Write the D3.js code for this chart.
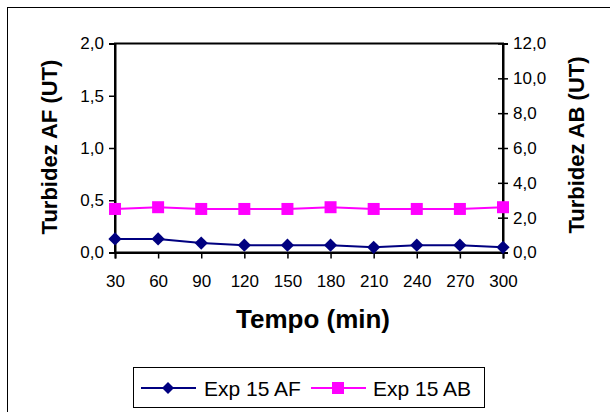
<!DOCTYPE html>
<html>
<head>
<meta charset="utf-8">
<script src="https://cdn.jsdelivr.net/npm/d3@7"></script>
<style>
  html, body { margin: 0; padding: 0; background: #fff; }
  svg { display: block; }
  text { font-family: Arial, "Liberation Sans", sans-serif; fill: #000; }
</style>
</head>
<body>
<svg id="chart" width="610" height="412"></svg>
<script>
const categories = ["30", "60", "90", "120", "150", "180", "210", "240", "270", "300"];
const seriesAF = [0.13, 0.13, 0.09, 0.07, 0.07, 0.07, 0.05, 0.07, 0.07, 0.05];
const seriesAB = [2.5, 2.6, 2.5, 2.5, 2.5, 2.6, 2.5, 2.5, 2.5, 2.6];
const leftTicks = [0, 0.5, 1.0, 1.5, 2.0];
const rightTicks = [0, 2, 4, 6, 8, 10, 12];
const seriesNames = ["Exp 15 AF", "Exp 15 AB"];
const titles = { x: "Tempo (min)", yLeft: "Turbidez AF (UT)", yRight: "Turbidez AB (UT)" };

const fmt = v => d3.format(".1f")(v).replace(".", ",");

const svg = d3.select("#chart");
const W = 610, H = 412;
const m = { left: 115, right: 503, top: 43.5, bottom: 252.5 };
const FF = "Arial, 'Liberation Sans', sans-serif";

// outer chart border
svg.append("rect").attr("x", 7.5).attr("y", 7.5).attr("width", W + 20).attr("height", H + 20)
  .attr("fill", "#fff").attr("stroke", "#000").attr("stroke-width", 1);

const x = d3.scalePoint().domain(categories).range([m.left, m.right]);
const yL = d3.scaleLinear().domain([0, 2]).range([m.bottom, m.top]);
const yR = d3.scaleLinear().domain([0, 12]).range([m.bottom, m.top]);

// plot frame
svg.append("rect").attr("x", m.left).attr("y", m.top)
  .attr("width", m.right - m.left).attr("height", m.bottom - m.top)
  .attr("fill", "none").attr("stroke", "#000").attr("stroke-width", 2);

// left axis
const gL = svg.append("g").attr("transform", `translate(${m.left},0)`)
  .call(d3.axisLeft(yL).tickValues(leftTicks).tickFormat(fmt).tickSize(6).tickPadding(5));
gL.select(".domain").attr("stroke-width", 2);
gL.selectAll(".tick line").attr("stroke-width", 1.5);
gL.selectAll(".tick text").attr("font-size", 17).attr("font-family", FF);

// right axis (cross ticks)
const gR = svg.append("g").attr("transform", `translate(${m.right},0)`)
  .call(d3.axisRight(yR).tickValues(rightTicks).tickFormat(fmt).tickSize(5).tickPadding(5));
gR.select(".domain").attr("stroke-width", 2);
gR.selectAll(".tick line").attr("x1", -5).attr("stroke-width", 1.5);
gR.selectAll(".tick text").attr("font-size", 17).attr("font-family", FF);

// bottom axis
const gB = svg.append("g").attr("transform", `translate(0,${m.bottom})`)
  .call(d3.axisBottom(x).tickSize(6).tickPadding(16));
gB.select(".domain").attr("stroke-width", 2);
gB.selectAll(".tick line").attr("stroke-width", 1.5);
gB.selectAll(".tick text").attr("font-size", 17).attr("font-family", FF);

// titles
svg.append("text").attr("x", (m.left + m.right) / 2 + 4).attr("y", 328)
  .attr("text-anchor", "middle").attr("font-size", 26).attr("font-weight", "bold").text(titles.x);
svg.append("text").attr("transform", "translate(57,147) rotate(-90)")
  .attr("text-anchor", "middle").attr("font-size", 22).attr("font-weight", "bold").text(titles.yLeft);
svg.append("text").attr("transform", "translate(584,145) rotate(-90)")
  .attr("text-anchor", "middle").attr("font-size", 22).attr("font-weight", "bold").text(titles.yRight);

// series
const colAF = "#000080", colAB = "#FF00FF";
const lineAF = d3.line().x((d, i) => x(categories[i])).y(d => yL(d));
const lineAB = d3.line().x((d, i) => x(categories[i])).y(d => yR(d));

svg.append("path").datum(seriesAB).attr("d", lineAB).attr("fill", "none").attr("stroke", colAB).attr("stroke-width", 2);
svg.selectAll(".sq").data(seriesAB).join("rect").attr("class", "sq")
  .attr("x", (d, i) => x(categories[i]) - 6).attr("y", d => yR(d) - 6)
  .attr("width", 12).attr("height", 12).attr("fill", colAB);

svg.append("path").datum(seriesAF).attr("d", lineAF).attr("fill", "none").attr("stroke", colAF).attr("stroke-width", 2);
svg.selectAll(".dm").data(seriesAF).join("path").attr("class", "dm")
  .attr("transform", (d, i) => `translate(${x(categories[i])},${yL(d)}) rotate(45)`)
  .attr("d", d3.symbol().type(d3.symbolSquare).size(88)).attr("fill", colAF);

// legend
const lg = svg.append("g");
lg.append("rect").attr("x", 133.5).attr("y", 367.5).attr("width", 351).attr("height", 40)
  .attr("fill", "#fff").attr("stroke", "#000").attr("stroke-width", 1);
lg.append("line").attr("x1", 141).attr("x2", 196).attr("y1", 388).attr("y2", 388).attr("stroke", colAF).attr("stroke-width", 2);
lg.append("path").attr("transform", "translate(168,388) rotate(45)")
  .attr("d", d3.symbol().type(d3.symbolSquare).size(72)).attr("fill", colAF);
lg.append("text").attr("x", 204).attr("y", 395.5).attr("font-size", 21).text(seriesNames[0]);
lg.append("line").attr("x1", 311).attr("x2", 366).attr("y1", 388).attr("y2", 388).attr("stroke", colAB).attr("stroke-width", 2);
lg.append("rect").attr("x", 332).attr("y", 382).attr("width", 12).attr("height", 12).attr("fill", colAB);
lg.append("text").attr("x", 373).attr("y", 395.5).attr("font-size", 21).text(seriesNames[1]);
</script>
</body>
</html>
